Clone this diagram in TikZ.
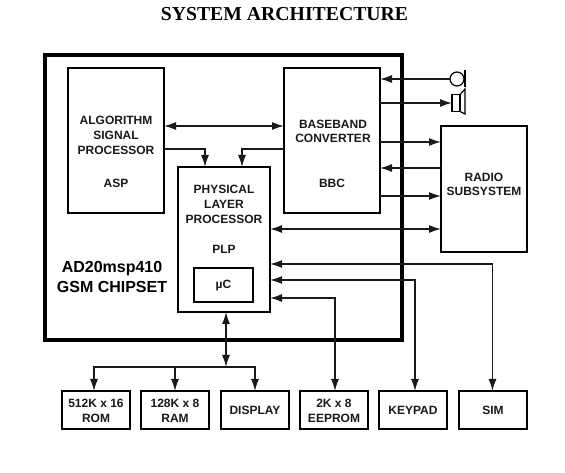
\documentclass[tikz,border=0pt]{standalone}
\usepackage{fontspec}
\setmainfont{Liberation Sans}
\newfontfamily\titlefont{Liberation Serif}
\usetikzlibrary{arrows.meta,calc}
\tikzset{
  x=0.75pt,y=-0.75pt,
  blk/.style={draw=black,line width=1.6pt,outer sep=0pt,inner sep=0pt},
  lbl/.style={font=\fontsize{9}{11}\selectfont\bfseries,align=center,inner sep=0pt,text=black!90},
  big/.style={font=\fontsize{12}{15}\selectfont\bfseries,align=center,inner sep=0pt},
  conn/.style={line width=1.1pt,draw=black!90},
  ar/.style={conn,-{Latex[length=9pt,width=6pt]}},
  dar/.style={conn,{Latex[length=9pt,width=6pt]}-{Latex[length=9pt,width=6pt]}},
}
\newcommand{\boxat}[5]{\node[blk,minimum width=#4*0.75pt,minimum height=#5*0.75pt,anchor=north west] (#1) at (#2,#3) {};}
\begin{document}
\begin{tikzpicture}
\useasboundingbox (0,0) rectangle (565,473);
\node[font=\titlefont\fontsize{14.8}{16}\selectfont\bfseries,inner sep=0pt] (title) at (284.5,14) {SYSTEM ARCHITECTURE};
\node[draw=black,line width=2.8pt,outer sep=0pt,minimum width=357*0.75pt,minimum height=285*0.75pt,anchor=north west,inner sep=0pt] (chip) at (45,55) {};
\boxat{asp}{68}{68}{96}{145}
\boxat{bbc}{284}{68}{96}{145}
\boxat{plp}{178}{167}{92}{145}
\boxat{uc}{194}{268}{59}{34}
\boxat{radio}{441}{126}{86}{126}
\boxat{rom}{62}{391}{68}{38}
\boxat{ram}{141}{391}{68}{38}
\boxat{disp}{221}{391}{68}{38}
\boxat{eeprom}{300}{391}{68}{38}
\boxat{keypad}{379}{391}{68}{38}
\boxat{sim}{459}{391}{68}{38}
% labels
\node[lbl] (l1) at (116,135.5) {ALGORITHM\\SIGNAL\\PROCESSOR};
\node[lbl] (l2) at (116,183.5) {ASP};
\node[lbl] (l3) at (333,131.5) {BASEBAND\\CONVERTER};
\node[lbl] (l4) at (332,183) {BBC};
\node[lbl] (l5) at (224,204.5) {PHYSICAL\\LAYER\\PROCESSOR};
\node[lbl] (l6) at (224,249) {PLP};
\node[lbl] (l7) at (223.5,285.5) {µC};
\node[lbl] (l8) at (484,184.5) {RADIO\\SUBSYSTEM};
\node[big] (l9) at (112,277) {AD20msp410\\GSM CHIPSET};
\node[lbl] (l10) at (96,411) {512K x 16\\ROM};
\node[lbl] (l11) at (175,411) {128K x 8\\RAM};
\node[lbl] at (disp.center) (l12) {DISPLAY};
\node[lbl] (l13) at (334,411) {2K x 8\\EEPROM};
\node[lbl] at (keypad.center) (l14) {KEYPAD};
\node[lbl] at (sim.center) (l15) {SIM};
% microphone and speaker
\node[draw=black,line width=0.9pt,circle,outer sep=0pt,minimum size=14*0.75pt,inner sep=0pt] (mic) at (457,79) {};
\coordinate (micbarT) at (465,70);
\coordinate (micbarB) at (465,87);
\draw[line width=1pt] (micbarT) -- (micbarB);
\node[draw=black,line width=1.2pt,outer sep=0pt,minimum width=8*0.75pt,minimum height=17*0.75pt,inner sep=0pt] (spk) at (456,103) {};
\draw[line width=0.9pt] (spk.north east) -- (465,89) -- (465,114) -- (spk.south east);
% levels
\coordinate (y1) at (0,126);
\coordinate (y2) at (0,149);
\coordinate (y3) at (0,142);
\coordinate (y4) at (0,168);
\coordinate (y5) at (0,196);
\coordinate (y6) at (0,229);
\coordinate (y7) at (0,264);
\coordinate (y8) at (0,280);
\coordinate (y9) at (0,298);
\coordinate (y10) at (0,367);
\coordinate (x1) at (205,0);
\coordinate (x2) at (242,0);
\coordinate (xb) at (226,0);
\coordinate (xrom) at (94,0);
\coordinate (xee) at (335,0);
\coordinate (xkey) at (415,0);
\coordinate (xsim) at (492.5,0);
% connectors
\draw[dar] (asp.east |- y1) -- (bbc.west |- y1);
\draw[ar] (asp.east |- y2) -| (x1 |- plp.north);
\draw[ar] (bbc.west |- y2) -| (x2 |- plp.north);
\draw[ar] (mic.west) -- (bbc.east |- mic.west);
\draw[ar] (bbc.east |- spk.west) -- (spk.west);
\draw[ar] (bbc.east |- y3) -- (radio.west |- y3);
\draw[ar] (radio.west |- y4) -- (bbc.east |- y4);
\draw[ar] (bbc.east |- y5) -- (radio.west |- y5);
\draw[dar] (plp.east |- y6) -- (radio.west |- y6);
\draw[dar] (xsim |- sim.north) |- (plp.east |- y7);
\draw[dar] (xkey |- keypad.north) |- (plp.east |- y8);
\draw[dar] (xee |- eeprom.north) |- (plp.east |- y9);
\coordinate (busj) at (xb |- y10);
\draw[dar] (xb |- plp.south) -- (busj);
\draw[ar] (busj) -| (xrom |- rom.north);
\draw[ar] (busj) -| (disp.north);
\draw[ar] (ram.north |- y10) -- (ram.north);
\end{tikzpicture}
\end{document}
